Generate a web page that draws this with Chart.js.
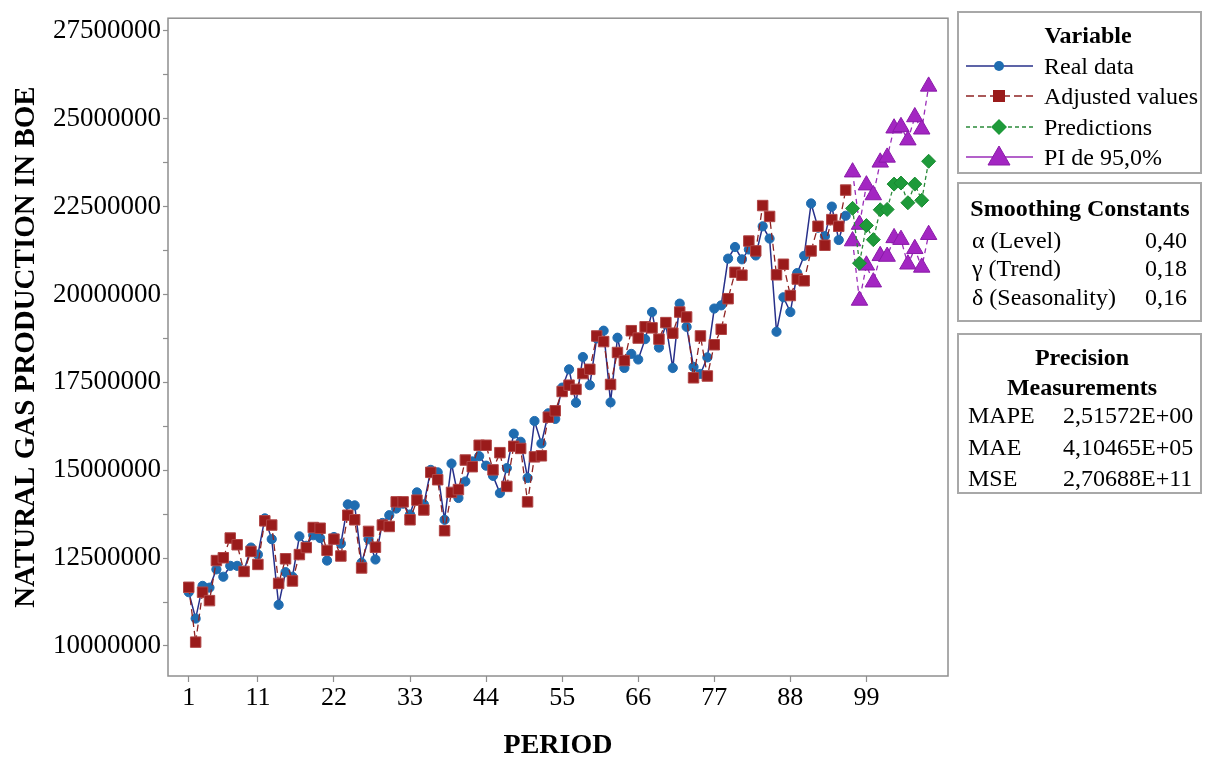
<!DOCTYPE html>
<html>
<head>
<meta charset="utf-8">
<script src="https://cdn.jsdelivr.net/npm/chart.js@4.4.1/dist/chart.umd.min.js"></script>
<style>
  html, body { margin: 0; padding: 0; background: #fff; }
  #wrap { position: relative; width: 1205px; height: 765px; font-family: "Liberation Serif", "Times New Roman", serif; color: #000; }
  #chartBox { position: absolute; left: 0; top: 0; width: 1205px; height: 765px; }
  .box { position: absolute; left: 957px; width: 245px; border: 2px solid #a8a8a8; box-sizing: border-box; }
  .t { position: absolute; white-space: nowrap; font-size: 24px; line-height: 28px; }
  .b { font-weight: bold; }
  .c { transform: translateX(-50%); }
  .r { transform: translateX(-100%); }
  svg { position: absolute; left: 0; top: 0; pointer-events: none; }
</style>
</head>
<body>
<div id="wrap">
  <div id="chartBox"><canvas id="chart" width="1205" height="765"></canvas></div>

  <div class="box" style="top:11px;height:163px"></div>
  <div class="box" style="top:182px;height:140px"></div>
  <div class="box" style="top:333px;height:161px"></div>

  <div class="t b c" style="left:1088px;top:21px">Variable</div>
  <div class="t" style="left:1044px;top:52px">Real data</div>
  <div class="t" style="left:1044px;top:82px">Adjusted values</div>
  <div class="t" style="left:1044px;top:113px">Predictions</div>
  <div class="t" style="left:1044px;top:143px">PI de 95,0%</div>

  <div class="t b c" style="left:1080px;top:194px">Smoothing Constants</div>
  <div class="t" style="left:972px;top:226px">α (Level)</div>
  <div class="t r" style="left:1187px;top:226px">0,40</div>
  <div class="t" style="left:972px;top:254px">γ (Trend)</div>
  <div class="t r" style="left:1187px;top:254px">0,18</div>
  <div class="t" style="left:972px;top:283px">δ (Seasonality)</div>
  <div class="t r" style="left:1187px;top:283px">0,16</div>

  <div class="t b c" style="left:1082px;top:343px">Precision</div>
  <div class="t b c" style="left:1082px;top:373px">Measurements</div>
  <div class="t" style="left:968px;top:401px">MAPE</div>
  <div class="t" style="left:1063px;top:401px">2,51572E+00</div>
  <div class="t" style="left:968px;top:433px">MAE</div>
  <div class="t" style="left:1063px;top:433px">4,10465E+05</div>
  <div class="t" style="left:968px;top:464px">MSE</div>
  <div class="t" style="left:1063px;top:464px">2,70688E+11</div>

  <svg width="1205" height="765">
    <line x1="966" y1="66" x2="1033" y2="66" stroke="#27308a" stroke-width="1.5"/>
    <circle cx="999" cy="66" r="5" fill="#1f6cb0"/>
    <line x1="966" y1="96" x2="1033" y2="96" stroke="#8e2323" stroke-width="1.3" stroke-dasharray="8 4"/>
    <rect x="993" y="90" width="12" height="12" fill="#9a1b1b"/>
    <line x1="966" y1="127" x2="1033" y2="127" stroke="#2a8a3a" stroke-width="1.3" stroke-dasharray="4 3"/>
    <polygon points="999,119 1007,127 999,135 991,127" fill="#1e9a3a"/>
    <line x1="966" y1="157" x2="1033" y2="157" stroke="#9a2cb8" stroke-width="1.5"/>
    <polygon points="999,146 1010,165 988,165" fill="#a326c2" stroke="#8a1aa8" stroke-width="1"/>
  </svg>
</div>

<script>
// natural gas production, millions of BOE
const periods = Array.from({ length: 96 }, (_, i) => i + 1)
const forecastPeriods = Array.from({ length: 12 }, (_, i) => i + 97)

const realData = [
  11.53, 10.78, 11.71, 11.66, 12.18, 11.97, 12.28, 12.28, 12.14, 12.8,
  12.6, 13.63, 13.04, 11.17, 12.1, 11.97, 13.12, 12.85, 13.15, 13.07,
  12.43, 13.1, 12.91, 14.03, 14.0, 12.37, 13.04, 12.46, 13.5, 13.72,
  13.91, 14.05, 13.74, 14.37, 14.03, 15.01, 14.94, 13.59, 15.19, 14.21,
  14.68, 15.25, 15.4, 15.13, 14.84, 14.35, 15.06, 16.04, 15.81, 14.78,
  16.4, 15.76, 16.62, 16.46, 17.35, 17.87, 16.92, 18.22, 17.42, 18.75,
  18.97, 16.93, 18.77, 17.91, 18.31, 18.15, 18.73, 19.5, 18.49, 19.15,
  17.91, 19.74, 19.08, 17.94, 17.74, 18.21, 19.6, 19.69, 21.02, 21.35,
  21.0, 21.28, 21.11, 21.94, 21.59, 18.94, 19.92, 19.5, 20.61, 21.1,
  22.59, 21.9, 21.66, 22.5, 21.55, 22.24
]
const adjustedValues = [
  11.67, 10.11, 11.53, 11.29, 12.43, 12.51, 13.07, 12.88, 12.12, 12.69,
  12.32, 13.56, 13.44, 11.78, 12.48, 11.85, 12.6, 12.8, 13.37, 13.35,
  12.72, 13.04, 12.56, 13.72, 13.59, 12.22, 13.26, 12.81, 13.44, 13.4,
  14.1, 14.1, 13.59, 14.15, 13.87, 14.94, 14.73, 13.28, 14.37, 14.45,
  15.29, 15.1, 15.71, 15.71, 15.01, 15.5, 14.54, 15.68, 15.62, 14.1,
  15.38, 15.41, 16.51, 16.69, 17.24, 17.42, 17.3, 17.75, 17.87, 18.82,
  18.66, 17.44, 18.35, 18.12, 18.97, 18.76, 19.08, 19.05, 18.73, 19.2,
  18.9, 19.5, 19.36, 17.63, 18.82, 17.68, 18.57, 19.01, 19.88, 20.63,
  20.55, 21.52, 21.24, 22.53, 22.22, 20.56, 20.86, 19.97, 20.44, 20.39,
  21.24, 21.94, 21.4, 22.13, 21.94, 22.97
]
const predictions = [22.45, 20.89, 21.96, 21.56, 22.41, 22.42, 23.14, 23.17, 22.61, 23.14, 22.68, 23.79]
const upperPI = [23.48, 21.99, 23.11, 22.83, 23.76, 23.9, 24.73, 24.77, 24.39, 25.05, 24.7, 25.92]
const lowerPI = [21.52, 19.83, 20.83, 20.35, 21.1, 21.08, 21.61, 21.56, 20.86, 21.3, 20.77, 21.7]

const xTicks = [1, 11, 22, 33, 44, 55, 66, 77, 88, 99]
const yTicks = [10, 11.25, 12.5, 13.75, 15, 16.25, 17.5, 18.75, 20, 21.25, 22.5, 23.75, 25, 26.25, 27.5]

const serif = "'Liberation Serif', 'Times New Roman', serif"
const axisGray = '#8f8f8f'

const toPoints = (xs, ys) => ys.map((v, i) => ({ x: xs[i], y: v }))

const frame = {
  id: 'frame',
  afterDraw(chart) {
    const { ctx, chartArea: a } = chart
    ctx.save()
    ctx.strokeStyle = axisGray
    ctx.lineWidth = 1.5
    ctx.strokeRect(a.left, a.top, a.right - a.left, a.bottom - a.top)
    ctx.restore()
  }
}

const ctx = document.getElementById('chart').getContext('2d')

new Chart(ctx, {
  type: 'line',
  data: {
    datasets: [
      {
        label: 'Adjusted values',
        data: toPoints(periods, adjustedValues),
        borderColor: '#8e2323',
        borderWidth: 1.3,
        borderDash: [7, 4],
        pointStyle: 'rect',
        pointRadius: 7.4,
        pointBackgroundColor: '#9a1b1b',
        pointBorderColor: '#b04545',
        pointBorderWidth: 1
      },
      {
        label: 'Real data',
        data: toPoints(periods, realData),
        borderColor: '#27308a',
        borderWidth: 1.5,
        pointStyle: 'circle',
        pointRadius: 4.6,
        pointBackgroundColor: '#1f6cb0',
        pointBorderColor: '#1f6cb0',
        pointBorderWidth: 1
      },
      {
        label: 'Predictions',
        data: toPoints(forecastPeriods, predictions),
        borderColor: '#2a8a3a',
        borderWidth: 1.3,
        borderDash: [4, 3],
        pointStyle: 'rectRot',
        pointRadius: 7,
        pointBackgroundColor: '#1e9a3a',
        pointBorderColor: '#1a8a32',
        pointBorderWidth: 1
      },
      {
        label: 'PI de 95,0%',
        data: toPoints(forecastPeriods, upperPI),
        borderColor: '#9a2cb8',
        borderWidth: 1.3,
        borderDash: [5, 4],
        pointStyle: 'triangle',
        pointRadius: 9.5,
        pointBackgroundColor: '#a326c2',
        pointBorderColor: '#8a1aa8',
        pointBorderWidth: 1
      },
      {
        label: 'PI lower',
        data: toPoints(forecastPeriods, lowerPI),
        borderColor: '#9a2cb8',
        borderWidth: 1.3,
        borderDash: [5, 4],
        pointStyle: 'triangle',
        pointRadius: 9.5,
        pointBackgroundColor: '#a326c2',
        pointBorderColor: '#8a1aa8',
        pointBorderWidth: 1
      }
    ]
  },
  options: {
    responsive: false,
    devicePixelRatio: 1,
    animation: false,
    layout: { padding: { left: 0, top: 12, right: 257, bottom: 0 } },
    plugins: { legend: { display: false }, tooltip: { enabled: false } },
    elements: { line: { tension: 0, fill: false } },
    scales: {
      x: {
        type: 'linear',
        min: -2,
        max: 110.8,
        afterBuildTicks: s => { s.ticks = xTicks.map(v => ({ value: v })) },
        afterFit: s => { s.height = 89 },
        grid: { drawOnChartArea: false, drawTicks: true, tickLength: 6, tickColor: axisGray, tickWidth: 1.2 },
        border: { display: false },
        ticks: { color: '#000', font: { family: serif, size: 26 }, padding: 1, maxRotation: 0, autoSkip: false },
        title: {
          display: true, text: 'PERIOD', color: '#000',
          font: { family: serif, size: 28, weight: 'bold' },
          padding: { top: 0, bottom: 2 }
        }
      },
      y: {
        min: 9.146,
        max: 27.86,
        afterBuildTicks: s => { s.ticks = yTicks.map(v => ({ value: v })) },
        afterFit: s => { s.width = 168 },
        grid: { drawOnChartArea: false, drawTicks: true, tickLength: 5, tickColor: axisGray, tickWidth: 1.2 },
        border: { display: false },
        ticks: {
          color: '#000', font: { family: serif, size: 27 }, padding: 2, autoSkip: false,
          callback: v => Math.abs(v / 2.5 - Math.round(v / 2.5)) < 1e-6 ? String(Math.round(v * 1e6)) : ''
        },
        title: {
          display: true, text: 'NATURAL GAS PRODUCTION IN BOE', color: '#000',
          font: { family: serif, size: 29, weight: 'bold' },
          padding: { top: 9, bottom: 0 }
        }
      }
    }
  },
  plugins: [frame]
})
</script>
</body>
</html>
